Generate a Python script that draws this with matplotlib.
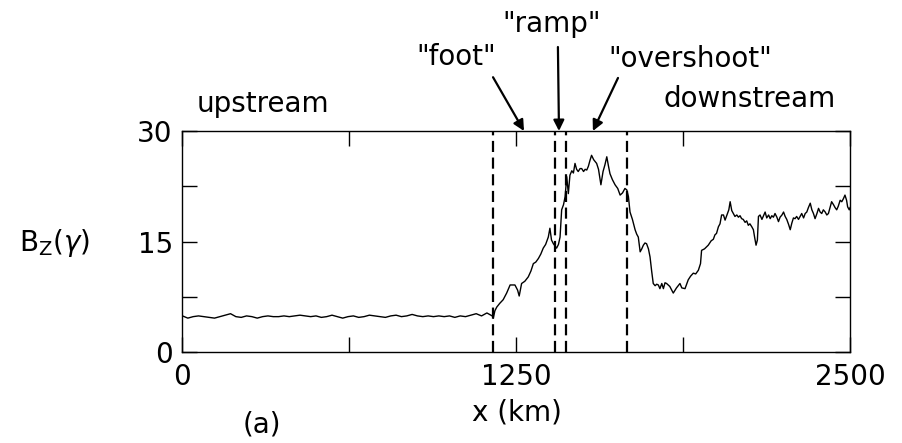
import numpy as np
import matplotlib
matplotlib.use("Agg")
import matplotlib.pyplot as plt

# Upstream field: sampled every 20 km from 0 to 1160 km
x_upstream = np.arange(0, 1161, 20)
bz_upstream = [4.9, 4.6, 4.8, 4.9, 4.8, 4.7, 4.6, 4.8, 5.0, 5.2,
               4.8, 4.7, 4.9, 4.8, 4.6, 4.8, 4.9, 4.8, 4.8, 4.9,
               4.8, 4.9, 5.0, 4.9, 4.8, 4.9, 4.7, 4.8, 5.0, 4.8,
               4.6, 4.8, 4.9, 4.7, 4.8, 5.0, 4.9, 4.8, 4.7, 4.9,
               5.0, 4.8, 4.9, 5.1, 4.9, 4.8, 4.9, 4.8, 4.9, 4.8,
               4.9, 4.7, 4.9, 4.8, 5.0, 5.2, 4.9, 5.3, 4.9]

# Shock transition and downstream region
x_shock = [1164, 1170, 1177, 1188, 1201, 1214, 1227, 1245, 1255, 1261,
           1270, 1282, 1295, 1305, 1314, 1323, 1333, 1342, 1351, 1360,
           1370, 1376, 1382, 1389, 1401, 1408, 1414, 1420, 1427, 1433,
           1439, 1445, 1451, 1458, 1464, 1470, 1476, 1482, 1489, 1495,
           1502, 1508, 1514, 1520, 1526, 1532, 1540, 1551, 1558, 1567,
           1575, 1582, 1589, 1595, 1601, 1610, 1620, 1630, 1639, 1648,
           1657, 1664, 1670, 1676, 1685, 1695, 1701, 1707, 1714, 1720,
           1726, 1732, 1738, 1745, 1751, 1757, 1763, 1770, 1776, 1782,
           1788, 1795, 1801, 1807, 1813, 1825, 1838, 1850, 1863, 1870,
           1882, 1894, 1903, 1913, 1922, 1932, 1940, 1944, 1955, 1969,
           1980, 1988, 1994, 2000, 2007, 2013, 2019, 2026, 2032, 2040,
           2046, 2051, 2057, 2063, 2069, 2076, 2082, 2088, 2094, 2100,
           2107, 2113, 2119, 2125, 2132, 2138, 2143, 2148, 2153, 2157,
           2163, 2170, 2176, 2182, 2188, 2195, 2201, 2207, 2213, 2219,
           2226, 2232, 2238, 2245, 2251, 2257, 2263, 2270, 2276, 2282,
           2288, 2294, 2300, 2307, 2313, 2319, 2326, 2332, 2338, 2344,
           2351, 2357, 2363, 2369, 2376, 2382, 2388, 2394, 2400, 2407,
           2413, 2419, 2425, 2431, 2438, 2444, 2450, 2456, 2463, 2469,
           2475, 2481, 2487, 2491, 2497, 2500]
bz_shock = [4.6, 5.6, 6.1, 6.6, 7.1, 8.0, 9.1, 9.1, 8.4, 7.6,
            9.3, 9.6, 10.2, 11.0, 12.0, 12.2, 12.7, 13.3, 14.1, 14.6,
            15.6, 16.8, 15.2, 14.7, 14.1, 14.6, 15.6, 19.3, 20.0, 21.1,
            23.8, 21.5, 24.0, 24.6, 24.3, 25.6, 24.8, 24.5, 24.9, 24.9,
            24.5, 24.8, 24.7, 25.2, 26.0, 26.7, 26.1, 25.6, 24.8, 22.7,
            24.5, 25.4, 26.5, 25.3, 24.2, 23.4, 22.7, 22.2, 21.3, 21.6,
            22.2, 22.0, 21.1, 19.0, 18.0, 16.6, 16.0, 15.6, 13.6, 14.0,
            14.5, 14.8, 14.7, 14.0, 12.9, 11.0, 9.3, 9.0, 9.2, 9.1,
            8.6, 9.3, 8.6, 9.4, 9.3, 8.9, 8.0, 8.7, 9.3, 8.7,
            8.6, 9.8, 10.3, 10.7, 10.6, 11.1, 12.0, 13.8, 14.0, 14.5,
            15.1, 15.3, 15.9, 16.1, 17.0, 17.4, 18.6, 18.6, 17.9, 18.7,
            19.3, 20.4, 19.2, 18.8, 18.4, 18.6, 18.3, 18.5, 18.1, 18.0,
            17.6, 17.8, 17.2, 17.4, 17.0, 16.6, 15.5, 14.5, 15.2, 18.4,
            18.6, 18.0, 18.5, 19.0, 18.2, 18.6, 18.1, 18.5, 18.3, 18.8,
            18.3, 17.7, 18.3, 18.6, 19.0, 18.4, 18.0, 17.3, 16.6, 17.5,
            18.2, 18.1, 18.4, 18.0, 18.4, 18.8, 18.2, 18.8, 19.0, 19.6,
            20.2, 19.3, 18.8, 18.1, 18.8, 19.5, 19.0, 18.8, 19.3, 19.0,
            18.6, 18.8, 19.6, 20.4, 20.0, 19.6, 19.3, 19.8, 20.6, 20.4,
            20.8, 21.3, 20.6, 19.7, 19.3, 19.6]

# Region boundaries (km)
boundaries = [1164, 1395, 1437, 1664]

# Axis ticks
x_ticks = [0, 625, 1250, 1875, 2500]
x_ticklabels = ["0", "", "1250", "", "2500"]
y_ticks = [0, 7.5, 15, 22.5, 30]
y_ticklabels = ["0", "", "15", "", "30"]

x = np.concatenate([x_upstream, x_shock])
bz = np.concatenate([bz_upstream, bz_shock])

plt.rcParams["font.family"] = ["DejaVu Sans"]

fig = plt.figure(figsize=(9.02, 4.43), dpi=100)
ax = fig.add_axes([0.2023, 0.2054, 0.7401, 0.4989])

ax.plot(x, bz, color="black", lw=1.0)

for b in boundaries:
    ax.axvline(b, color="black", lw=1.6, ls=(0, (5, 2.5)))

ax.set_xlim(0, 2500)
ax.set_ylim(0, 30)
ax.set_xticks(x_ticks)
ax.set_xticklabels(x_ticklabels)
ax.set_yticks(y_ticks)
ax.set_yticklabels(y_ticklabels)
ax.tick_params(direction="in", length=11, width=1.0, top=True, right=True,
               labelsize=20, pad=7)
ax.tick_params(axis="x", pad=8)
for s in ax.spines.values():
    s.set_linewidth(1.0)

# Region labels above the frame
txt = dict(fontsize=20, ha="center", va="center", clip_on=False)
ax.text(301, 33.6, "upstream", **txt)
ax.text(2125, 34.4, "downstream", **txt)
ax.text(1024, 40.0, '"foot"', **txt)
ax.text(1384, 44.5, '"ramp"', **txt)
ax.text(1901, 39.8, '"overshoot"', **txt)

arrow = dict(arrowstyle="-|>", color="black", lw=1.6, mutation_scale=16,
             shrinkA=0, shrinkB=0)
ax.annotate("", xy=(1279, 30), xytext=(1163, 37.3), arrowprops=arrow,
            annotation_clip=False)
ax.annotate("", xy=(1410, 30), xytext=(1406, 41.4), arrowprops=arrow,
            annotation_clip=False)
ax.annotate("", xy=(1537, 30), xytext=(1631, 37.2), arrowprops=arrow,
            annotation_clip=False)

fig.text(55 / 902, 1 - 243 / 443, r"B$_{\mathrm{Z}}$($\gamma$)", fontsize=20,
         ha="center", va="center")
fig.text(517 / 902, 1 - 413 / 443, "x (km)", fontsize=20,
         ha="center", va="center")
fig.text(262 / 902, 1 - 425 / 443, "(a)", fontsize=20,
         ha="center", va="center")

fig.savefig("out.png", dpi=100)
